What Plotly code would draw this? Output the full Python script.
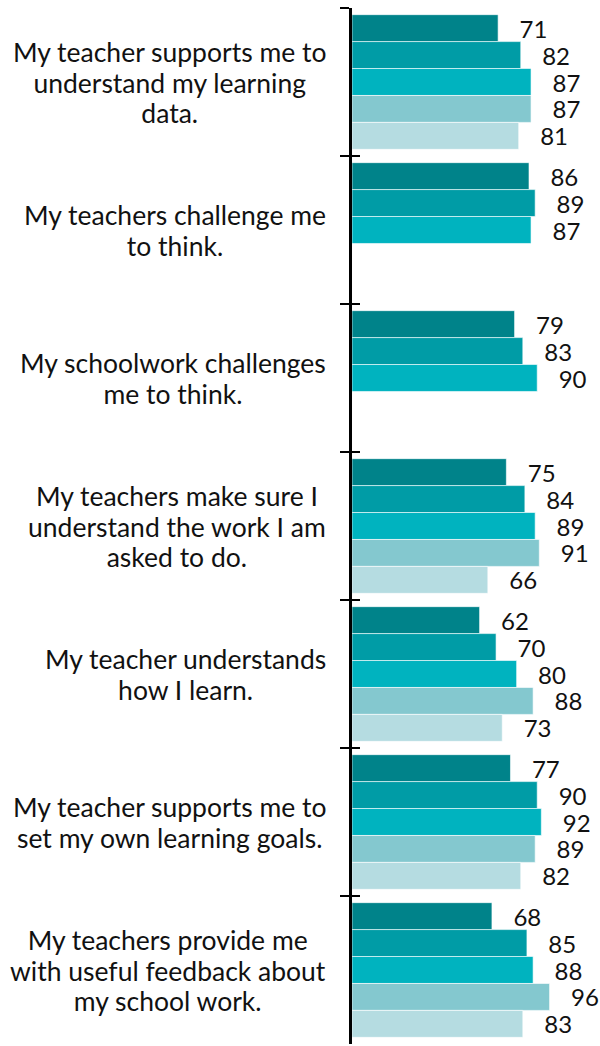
import plotly.graph_objects as go

# Survey statements (one group of bars each) and their label line breaks
statements = [
    "My teacher supports me to<br>understand my learning<br>data.",
    "My teachers challenge me<br>to think.",
    "My schoolwork challenges<br>me to think.",
    "My teachers make sure I<br>understand the work I am<br>asked to do.",
    "My teacher understands<br>how I learn.",
    "My teacher supports me to<br>set my own learning goals.",
    "My teachers provide me<br>with useful feedback about<br>my school work.",
]

# Percentage agreement per group (None = no data for that group)
group_1 = [71, 86, 79, 75, 62, 77, 68]
group_2 = [82, 89, 83, 84, 70, 90, 85]
group_3 = [87, 87, 90, 89, 80, 92, 88]
group_4 = [87, None, None, 91, 88, 89, 96]
group_5 = [81, None, None, 66, 73, 82, 83]

series = [
    ("Group 1", group_1, "#00838A"),
    ("Group 2", group_2, "#009CA6"),
    ("Group 3", group_3, "#00B3BF"),
    ("Group 4", group_4, "#84C8CF"),
    ("Group 5", group_5, "#B5DCE1"),
]

FONT = "Lato, 'Open Sans', sans-serif"
PAD = "\u00a0\u00a0\u00a0"

fig = go.Figure()
for name, vals, color in series:
    fig.add_trace(go.Bar(
        name=name,
        y=statements,
        x=vals,
        orientation="h",
        marker=dict(color=color, line=dict(color="rgba(255,255,255,0.6)", width=1)),
        texttemplate=PAD + "%{x}",
        textposition="outside",
        constraintext="none",
        cliponaxis=False,
        textfont=dict(family=FONT, size=24, color="#111111"),
        hoverinfo="skip",
    ))

# Invisible companion trace so the second (inside-tick) axis carries the categories
fig.add_trace(go.Scatter(
    x=[0] * len(statements), y=statements, yaxis="y2",
    mode="markers", marker=dict(opacity=0), hoverinfo="skip", showlegend=False,
))

# Category labels: centred multi-line blocks, right-aligned against the axis.
# The base font sets a tighter line pitch; each line is drawn a little larger.
for s in statements:
    label = "<br>".join(
        f'<span style="font-size:26.5px">{line}</span>' for line in s.split("<br>")
    )
    fig.add_annotation(
        x=0, xref="paper", y=s, yref="y",
        text=label, showarrow=False,
        xanchor="right", yanchor="middle", align="center", xshift=-24,
        font=dict(family=FONT, size=23.5, color="#111111"),
    )

fig.update_layout(
    width=600, height=1046,
    margin=dict(l=352, r=0, t=8, b=2),
    barmode="group",
    bargap=0.09,
    bargroupgap=0,
    showlegend=False,
    plot_bgcolor="white",
    paper_bgcolor="white",
    xaxis=dict(range=[0, 120.5], visible=False, fixedrange=True),
    yaxis=dict(
        type="category", categoryorder="array", categoryarray=statements,
        autorange="reversed",
        showline=True, linecolor="black", linewidth=2.5,
        ticks="outside", tickson="boundaries", ticklen=9, tickwidth=2, tickcolor="black",
        showticklabels=False, showgrid=False, zeroline=False,
    ),
    yaxis2=dict(
        overlaying="y", matches="y", side="left",
        type="category", categoryorder="array", categoryarray=statements,
        showline=False,
        ticks="inside", tickson="boundaries", ticklen=8, tickwidth=2, tickcolor="black",
        showticklabels=False, showgrid=False, zeroline=False,
    ),
)

fig.write_html("out.html")
